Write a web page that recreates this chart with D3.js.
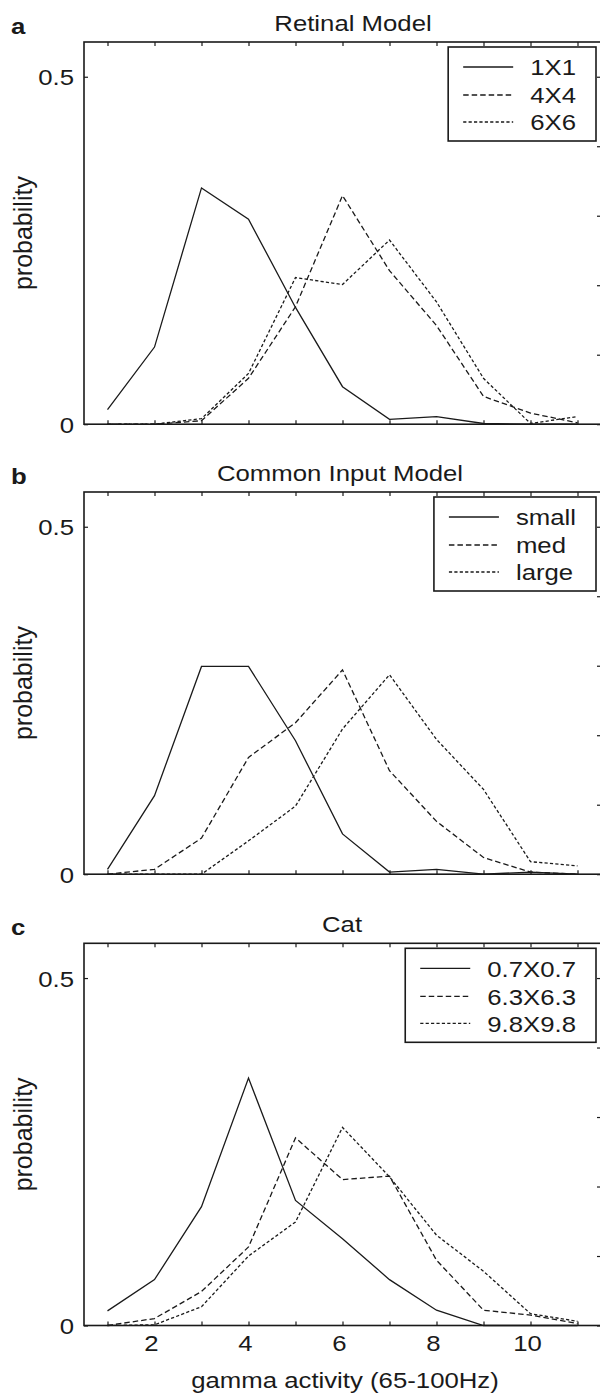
<!DOCTYPE html>
<html>
<head>
<meta charset="utf-8">
<script src="https://cdn.jsdelivr.net/npm/d3@7"></script>
<style>
  body { margin: 0; background: #fff; }
  text { font-family: "Liberation Sans", Arial, sans-serif; fill: #1a1a1a; }
</style>
</head>
<body>
<div id="chart"></div>
<script>
// x positions (bins) shared by all panels
var xValues = [1, 2, 3, 4, 5, 6, 7, 8, 9, 10, 11];
var xTickLabels = [2, 4, 6, 8, 10];
var yTickLabels = [0, 0.5];

var panelTitles = ["Retinal Model", "Common Input Model", "Cat"];
var panelLetters = ["a", "b", "c"];

// panel a: Retinal Model
var retinalNames = ["1X1", "4X4", "6X6"];
var retinal1x1 = [0.021, 0.111, 0.340, 0.295, 0.168, 0.054, 0.007, 0.011, 0.001, 0, 0];
var retinal4x4 = [0, 0, 0.005, 0.066, 0.169, 0.329, 0.221, 0.142, 0.040, 0.016, 0.002];
var retinal6x6 = [0, 0, 0.008, 0.073, 0.211, 0.201, 0.265, 0.176, 0.066, 0.001, 0.011];

// panel b: Common Input Model
var commonNames = ["small", "med", "large"];
var commonSmall = [0.007, 0.113, 0.299, 0.299, 0.192, 0.058, 0.003, 0.007, 0, 0.003, 0];
var commonMed = [0, 0.007, 0.052, 0.168, 0.218, 0.294, 0.149, 0.076, 0.024, 0.003, 0];
var commonLarge = [0, 0, 0, 0.048, 0.098, 0.209, 0.287, 0.194, 0.122, 0.018, 0.012];

// panel c: Cat
var catNames = ["0.7X0.7", "6.3X6.3", "9.8X9.8"];
var cat07 = [0.021, 0.066, 0.171, 0.356, 0.180, 0.125, 0.066, 0.022, 0, 0, 0];
var cat63 = [0, 0.010, 0.049, 0.113, 0.270, 0.210, 0.215, 0.094, 0.022, 0.015, 0.003];
var cat98 = [0, 0.001, 0.027, 0.100, 0.149, 0.285, 0.214, 0.130, 0.078, 0.017, 0.006];

var panelNames = [retinalNames, commonNames, catNames];
var panelSeries = [
  [retinal1x1, retinal4x4, retinal6x6],
  [commonSmall, commonMed, commonLarge],
  [cat07, cat63, cat98]
];

// layout
var svgWidth = 600;
var svgHeight = 1394;
var left = 84, right = 601;
var panelTops = [42, 492, 943.3];
var panelHeight = 382.2;
var titleX = [353, 340, 342];
var stretch = 1.12; // text in the figure is a bit wide
var ink = "#1a1a1a";
var dashes = [null, "5.5,3", "3.2,2.2"];

var svg = d3.select("#chart").append("svg")
  .attr("width", svgWidth)
  .attr("height", svgHeight);

var x = d3.scaleLinear().domain([0.5, 11.5]).range([left, right]);

// helper for horizontally stretched text
function addText(g, tx, ty, str, size, anchor, weight) {
  return g.append("text")
    .attr("transform", `translate(${tx},${ty}) scale(${stretch},1)`)
    .attr("text-anchor", anchor || "start")
    .attr("font-size", size)
    .attr("font-weight", weight || "normal")
    .text(str);
}

panelTops.forEach(function(top, p) {
  var bottom = top + panelHeight;
  var y = d3.scaleLinear().domain([0, 0.55]).range([bottom, top]);
  var g = svg.append("g");

  // panel letter + title
  addText(g, 11, top - 8.5, panelLetters[p], 23, "start", "bold");
  addText(g, titleX[p], top - 11, panelTitles[p], 23, "middle");

  // bottom axis (inward ticks)
  var bottomAxis = d3.axisBottom(x).tickValues(xValues).tickSizeInner(-4).tickSizeOuter(0)
    .tickFormat("");
  var xa = g.append("g").attr("transform", `translate(0,${bottom})`).call(bottomAxis);
  // top axis
  var topAxis = d3.axisTop(x).tickValues(xValues).tickSizeInner(-4).tickSizeOuter(0)
    .tickFormat("");
  var ta = g.append("g").attr("transform", `translate(0,${top})`).call(topAxis);
  // left axis: ticks only at labelled values
  var leftAxis = d3.axisLeft(y).tickValues(yTickLabels).tickSizeInner(-4).tickSizeOuter(0)
    .tickFormat("");
  var la = g.append("g").attr("transform", `translate(${left},0)`).call(leftAxis);
  // right axis: ticks every 0.1
  var rightAxis = d3.axisRight(y).tickValues(d3.range(0, 0.51, 0.1)).tickSizeInner(-4).tickSizeOuter(0)
    .tickFormat("");
  var ra = g.append("g").attr("transform", `translate(${right},0)`).call(rightAxis);

  [xa, ta, la, ra].forEach(function(a) {
    a.selectAll("path").remove();
    a.selectAll("line").attr("stroke", ink).attr("stroke-width", 1.2);
  });

  // frame
  g.append("rect")
    .attr("x", left).attr("y", top)
    .attr("width", right - left).attr("height", panelHeight)
    .attr("fill", "none").attr("stroke", ink).attr("stroke-width", 1.6);

  // y tick labels
  yTickLabels.forEach(function(v) {
    addText(g, 74, y(v) + 8.5, v === 0 ? "0" : String(v), 23, "end");
  });

  // x tick labels only on the last panel
  if (p === panelTops.length - 1) {
    xTickLabels.forEach(function(v) {
      addText(g, x(v) - 3, bottom + 25, String(v), 23, "middle");
    });
    addText(g, 345, bottom + 62.5, "gamma activity (65-100Hz)", 23, "middle");
  }

  // y label
  g.append("text")
    .attr("transform", `translate(32,${(top + bottom) / 2}) rotate(-90)`)
    .attr("text-anchor", "middle")
    .attr("font-size", 25)
    .text("probability");

  // lines
  var line = d3.line()
    .x(function(d, i) { return x(xValues[i]); })
    .y(function(d) { return y(d); });

  panelSeries[p].forEach(function(values, s) {
    g.append("path")
      .datum(values)
      .attr("d", line)
      .attr("fill", "none")
      .attr("stroke", ink)
      .attr("stroke-width", 1.3)
      .attr("stroke-dasharray", dashes[s]);
  });

  // legend
  var lg = g.append("g");
  var box = lg.append("rect");
  var rowY = [top + 25, top + 53, top + 80];
  var labels = panelNames[p].map(function(name, s) {
    return addText(lg, 0, rowY[s] + 8.3, name, 23, "start");
  });
  var maxW = d3.max(labels, function(t) { return t.node().getComputedTextLength() * stretch; });
  var boxRight = right - 5;
  var textStart = boxRight - 20 - maxW;
  var lineEnd = textStart - 17;
  var lineStart = lineEnd - 50;
  var boxLeft = lineStart - 15;
  labels.forEach(function(t, s) {
    t.attr("transform", `translate(${textStart},${rowY[s] + 8.3}) scale(${stretch},1)`);
    lg.append("line")
      .attr("x1", lineStart).attr("x2", lineEnd)
      .attr("y1", rowY[s]).attr("y2", rowY[s])
      .attr("stroke", ink).attr("stroke-width", 1.3)
      .attr("stroke-dasharray", dashes[s]);
  });
  box.attr("x", boxLeft).attr("y", top + 5)
    .attr("width", boxRight - boxLeft).attr("height", 94)
    .attr("fill", "#fff").attr("stroke", ink).attr("stroke-width", 1.6);
});
</script>
</body>
</html>
